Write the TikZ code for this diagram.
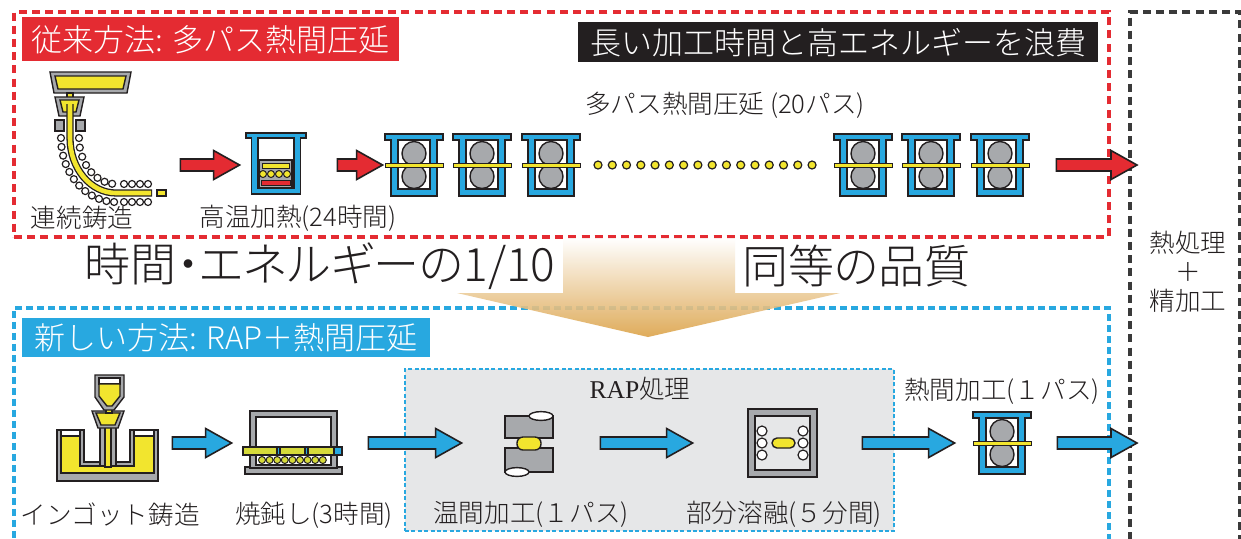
\documentclass[tikz,border=0pt]{standalone}
\usepackage{fontspec}
\setmainfont{Noto Sans CJK JP}[UprightFont={* Light}]
\newfontfamily\latinserif{Liberation Serif}
\usetikzlibrary{calc, positioning}

\definecolor{oldred}{HTML}{E42B32}
\definecolor{newblue}{HTML}{28A8E0}
\definecolor{steel}{HTML}{F2E52E}
\definecolor{rollgray}{HTML}{A7A9AC}
\definecolor{slab}{HTML}{D6DA3A}
\definecolor{rapgray}{HTML}{E6E7E8}
\definecolor{finish}{HTML}{3A3A3A}
\definecolor{ink}{HTML}{231F20}
\definecolor{arrowmid}{HTML}{ADA18B}
\definecolor{arrowtan}{HTML}{DCA349}

% block arrow drawn level with its start point
\newcommand{\fatarrow}[3]{%
  \draw[#1] let \p1=(#2), \p2=(#3) in
    (\x1,\y1+3pt) -- (\x2-13pt,\y1+3pt) -- (\x2-13pt,\y1+7.25pt) -- (\x2,\y1)
    -- (\x2-13pt,\y1-7.25pt) -- (\x2-13pt,\y1-3pt) -- (\x1,\y1-3pt) -- cycle;}

\begin{document}
\begin{tikzpicture}[
    x=0.5pt, y=-0.5pt,
    every node/.style={font=\fontsize{12.8}{15}\selectfont, text=ink, inner sep=0pt},
    slot/.style={minimum height=30pt},
    titlebar/.style={anchor=north west, text=white, font=\fontsize{15.5}{18}\selectfont},
    big/.style={font=\fontsize{23}{27}\selectfont\addfontfeatures{RawFeature=+palt}},
    outline/.style={draw=ink, line width=0.7pt},
    roller/.style={outline, fill=white, line width=0.6pt},
    redarrow/.style={outline, fill=oldred, line width=0.8pt},
    bluearrow/.style={outline, fill=newblue, line width=0.8pt},
    groupbox/.style={anchor=north west, line width=1.9pt, dash pattern=on 4pt off 2.6pt},
    mill/.pic={
      \filldraw[outline, fill=newblue] (-29,-31) -- (29,-31) -- (29,-25) -- (23,-25)
        -- (23,31) -- (-23,31) -- (-23,-25) -- (-29,-25) -- cycle;
      \filldraw[outline, fill=white] (-16,-25) rectangle (16,24);
      \filldraw[outline, fill=rollgray] (0,-11.5) circle[radius=6pt] (0,11.5) circle[radius=6pt];
      \filldraw[outline, fill=steel, line width=0.5pt] (-29,-2) rectangle (29,2);
    },
    heater/.pic={
      \filldraw[outline, fill=newblue] (-30,-32) -- (30,-32) -- (30,-27) -- (24.5,-27)
        -- (24.5,29) -- (-24.5,29) -- (-24.5,-27) -- (-30,-27) -- cycle;
      \filldraw[outline, fill=white] (-18,-27) rectangle (18,23);
      \filldraw[outline, fill=rollgray] (-17,-5) rectangle (16,23);
      \filldraw[outline, fill=steel, line width=0.5pt] (-14,-2) rectangle (13,3);
      \foreach \x in {-13,-5,3,11}
        \filldraw[outline, fill=steel, line width=0.5pt] (\x,9) circle[radius=1.75pt];
      \filldraw[outline, fill=oldred, line width=0.5pt] (-15,15) rectangle (14,20);
    },
    annealer/.pic={
      \filldraw[outline, fill=rollgray] (-48.5,24) rectangle (48.5,31);
      \filldraw[outline, fill=rollgray] (-43.5,-32) rectangle (43.5,25);
      \filldraw[outline, fill=white] (-37.5,-26) rectangle (37.5,22);
      \filldraw[outline, fill=newblue] (-50.5,4) rectangle (48.5,12);
      \foreach \a/\b in {-50.5/-16.5, -13.5/11.5, 14.5/40.5}
        \filldraw[outline, fill=slab] (\a,4) rectangle (\b,12);
      \foreach \i in {0,...,8}
        \filldraw[outline, fill=slab, line width=0.5pt] (-31.5+7.6*\i,17) circle[radius=1.75pt];
    },
    die/.pic={
      \filldraw[outline, fill=rollgray] (-24,-27) rectangle (24,-5);
      \filldraw[outline, fill=white] (12,-27) ellipse[x radius=6pt, y radius=2.2pt];
      \filldraw[outline, fill=rollgray] (-24,5) rectangle (24,29);
      \filldraw[outline, fill=white] (-12,29) ellipse[x radius=6pt, y radius=2.2pt];
      \filldraw[outline, fill=steel, rounded corners=3pt] (-12,-6) rectangle (12,7);
    },
    melter/.pic={
      \filldraw[outline, fill=rollgray] (-34.5,-34) rectangle (34.5,34);
      \filldraw[outline, fill=rapgray] (-27.5,-27) rectangle (27.5,27);
      \foreach \x in {-20.5,20.5}
        \foreach \y in {-12,0,12}
          \filldraw[outline, fill=white, line width=0.6pt] (\x,\y) circle[radius=2.5pt];
      \filldraw[outline, fill=steel, rounded corners=2.5pt] (-10.5,-5) rectangle (12.5,5);
    },
  ]
  \clip (0,0) rectangle (1241,538);
  \fill[white] (0,0) rectangle (1241,538);

  % group frames
  \node[groupbox, draw=oldred, minimum width=547.5pt, minimum height=112.5pt] (oldbox) at (12,10) {};
  \node[groupbox, draw=newblue, dash pattern=on 3.5pt off 2pt, minimum width=547.5pt, minimum height=130pt] (newbox) at (12,306) {};
  \node[groupbox, draw=finish, minimum width=55pt, minimum height=270pt] (fin) at (1128,10) {};
  \node[anchor=north west, fill=rapgray, draw=newblue, line width=1pt, dash pattern=on 2pt off 1.2pt,
        minimum width=244.5pt, minimum height=81pt] (rap) at (404,368) {};

  \node[titlebar, fill=oldred, minimum width=188.5pt, minimum height=22pt] (oldtitle) at (22,17) {従来方法: 多パス熱間圧延};
  \node[titlebar, fill=ink, minimum width=260pt, minimum height=20pt] (wastetitle) at (578,22) {長い加工時間と高エネルギーを浪費};
  \node[titlebar, fill=newblue, minimum width=204pt, minimum height=19.5pt] (newtitle) at (22,318) {新しい方法: RAP＋熱間圧延};

  % conventional line
  \node[slot, minimum width=58pt] (cast) at (108,165) {};
  \filldraw[outline, fill=rollgray] (50,72) -- (131,72) -- (127,93) -- (54,93) -- cycle;
  \filldraw[outline, fill=steel] (55,76) -- (126,76) -- (123,89) -- (58,89) -- cycle;
  \filldraw[outline, fill=steel] (67,93) rectangle (73,98);
  \filldraw[outline, fill=rollgray] (55,97) -- (84,97) -- (80,116) -- (59,116) -- cycle;
  \filldraw[outline, fill=steel] (60,100) -- (79,100) -- (76,112) -- (63,112) -- cycle;
  \filldraw[outline, fill=rollgray] (55,120) rectangle (64,131) (76,120) rectangle (85,131);
  \draw[draw=ink, line width=3.6pt] (70,104) -- (70,138)
    arc[start angle=180, end angle=270, x radius=23pt, y radius=27.5pt] -- (152,193);
  \draw[draw=steel, line width=2.3pt] (70,104) -- (70,138)
    arc[start angle=180, end angle=270, x radius=23pt, y radius=27.5pt] -- (151,193);
  \foreach \a in {180,188,...,270}
    \draw[roller] (116,138) ++(\a:27.5pt and 32pt) circle[radius=1.75pt];
  \foreach \a in {180,192,...,270}
    \draw[roller] (116,138) ++(\a:18.5pt and 23pt) circle[radius=1.75pt];
  \foreach \x in {124,132,140,148} {
    \draw[roller] (\x,202) circle[radius=1.75pt];
    \draw[roller] (\x,184) circle[radius=1.75pt];
  }
  \filldraw[outline, fill=steel] (157,190) rectangle (166,196);

  \node[slot, minimum width=30pt] (furn) at (276,165) {};
  \pic at (furn) {heater};

  \foreach \n/\x in {m1/414, m2/482, m3/551, m4/863, m5/931, m6/1000} {
    \node[slot, minimum width=29pt] (\n) at (\x,165) {};
    \pic at (\n) {mill};
  }
  \foreach \i in {0,...,15}
    \filldraw[outline, fill=steel, line width=0.6pt] (598+\i*14.27,165) circle[radius=2pt];

  \fatarrow{redarrow}{$(cast.east)+(14,0)$}{$(furn.west)+(-6,0)$}
  \fatarrow{redarrow}{$(furn.east)+(31,0)$}{$(m1.west)+(-2,0)$}
  \fatarrow{redarrow}{$(m6.east)+(27,0)$}{$(fin.west)+(9,0)$}

  \node (castlbl) at (82,218) {連続鋳造};
  \node (furnlbl) at (298,218) {高温加熱(24時間)};
  \node (rolllbl) at (725,105) {多パス熱間圧延 (20パス)};

  % new line
  \node[slot, minimum width=50.5pt] (ingot) at (107.5,443) {};
  \filldraw[outline, fill=rollgray] (57,430) -- (84,430) -- (84,462) -- (130,462) -- (130,430)
    -- (158,430) -- (158,481) -- (57,481) -- cycle;
  \filldraw[outline, fill=white] (61,430) rectangle (80,436) (134,430) rectangle (154,436);
  \filldraw[outline, fill=steel] (61,436) -- (80,436) -- (80,466) -- (134,466) -- (134,436)
    -- (154,436) -- (154,473) -- (61,473) -- cycle;
  \filldraw[outline, fill=rollgray] (100,420) rectangle (116,466);
  \filldraw[outline, fill=steel] (105,420) rectangle (111,467);
  \filldraw[outline, fill=rollgray] (92,411) -- (124,411) -- (118,428) -- (98,428) -- cycle;
  \filldraw[outline, fill=steel] (96,413) -- (120,413) -- (115,425) -- (101,425) -- cycle;
  \filldraw[outline, fill=steel] (106,405) rectangle (112,413);
  \filldraw[outline, fill=rollgray] (95,375) -- (124,375) -- (124,397) -- (114,410) -- (104,410)
    -- (95,397) -- cycle;
  \filldraw[outline, fill=white] (99,378) rectangle (120,384);
  \filldraw[outline, fill=steel] (99,384) -- (120,384) -- (120,396) -- (112,406) -- (107,406)
    -- (99,396) -- cycle;

  \node[slot, minimum width=48.5pt] (anneal) at (293.5,443) {};
  \pic at (anneal) {annealer};
  \node[slot, minimum width=24pt] (die) at (529,443) {};
  \pic at (die) {die};
  \node[slot, minimum width=34.5pt] (melt) at (782.5,443) {};
  \pic at (melt) {melter};
  \node[slot, minimum width=29pt] (m7) at (1002,443) {};
  \pic at (m7) {mill};

  \fatarrow{bluearrow}{$(ingot.east)+(14,0)$}{$(anneal.west)+(-13,0)$}
  \fatarrow{bluearrow}{$(anneal.east)+(26,0)$}{$(die.west)+(-43,0)$}
  \fatarrow{bluearrow}{$(die.east)+(47,0)$}{$(melt.west)+(-55,0)$}
  \fatarrow{bluearrow}{$(melt.east)+(45,0)$}{$(m7.west)+(-18,0)$}
  \fatarrow{bluearrow}{$(m7.east)+(26,0)$}{$(fin.west)+(9,0)$}

  \node (ingotlbl) at (110,515) {インゴット鋳造};
  \node (anneallbl) at (314,515) {焼鈍し(3時間)};
  \node (dielbl) at (531,514) {温間加工(１パス)};
  \node (meltlbl) at (784,514) {部分溶融(５分間)};
  \node (raplbl) at (640,389) {{\latinserif RAP}処理};
  \node (hotlbl) at (1002,391) {熱間加工(１パス)};

  \node[align=center, font=\fontsize{12.8}{14.5}\selectfont] (fintxt) at (1188,272) {熱処理\\＋\\精加工};

  % one-tenth arrow between the two routes
  \shade[top color=white, middle color=arrowmid, bottom color=arrowtan, opacity=0.9]
    (563,238) -- (735,238) -- (735,293) -- (840,293) -- (648,337) -- (457,293) -- (563,293) -- cycle;
  \node[big, anchor=east] (saving) at (556,266) {時間・エネルギーの1/10};
  \node[big, anchor=west] (quality) at (742,266) {同等の品質};
\end{tikzpicture}
\end{document}
